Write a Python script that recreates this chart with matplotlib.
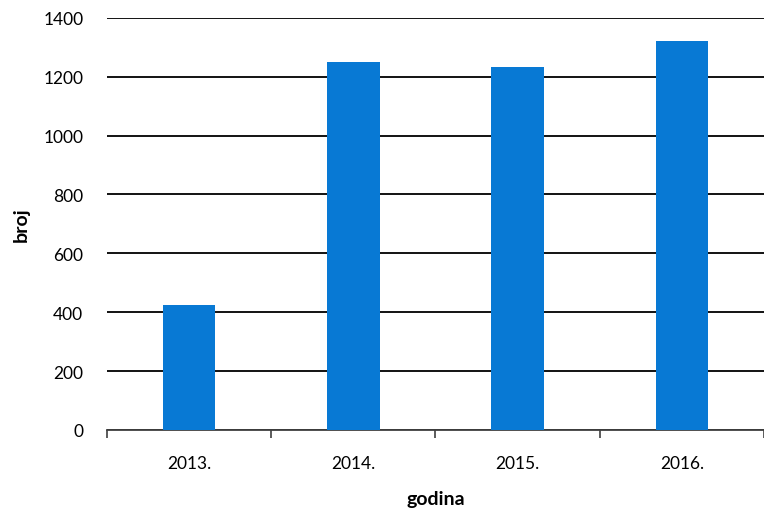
import numpy as np
import matplotlib
matplotlib.use("Agg")
import matplotlib.pyplot as plt

plt.rcParams["font.family"] = ["Lato", "DejaVu Sans"]

years = ["2013.", "2014.", "2015.", "2016."]
counts = [426, 1249, 1234, 1323]
y_ticks = [0, 200, 400, 600, 800, 1000, 1200, 1400]

fig = plt.figure(figsize=(7.64, 5.10), dpi=100)
ax = fig.add_axes([0.14, 0.155, 0.86, 0.808])

x = np.arange(len(years))
ax.bar(x, counts, width=0.32, color="#0879D4", zorder=3)

ax.set_ylim(0, 1400)
ax.set_yticks(y_ticks)
ax.set_xlim(-0.5, len(years) - 0.5)
ax.grid(axis="y", color="black", linewidth=1.3, zorder=1)
ax.set_axisbelow(True)

# category labels centred, tick marks between categories
ax.set_xticks(x)
ax.set_xticklabels(years, fontsize=12.5)
ax.tick_params(axis="x", which="major", length=0, pad=18)
ax.set_xticks(np.arange(-0.5, len(years)), minor=True)
ax.tick_params(axis="x", which="minor", length=6, width=1.2, color="#404040")
ax.tick_params(axis="y", length=0, labelsize=12.5, pad=17)

for side in ["left", "right", "top"]:
    ax.spines[side].set_visible(False)
ax.spines["bottom"].set_color("#404040")
ax.spines["bottom"].set_linewidth(1.3)

ax.set_ylabel("broj", fontsize=14, fontweight="bold", labelpad=10)
ax.set_xlabel("godina", fontsize=14, fontweight="bold", labelpad=14)

fig.savefig("out.png", dpi=100)
